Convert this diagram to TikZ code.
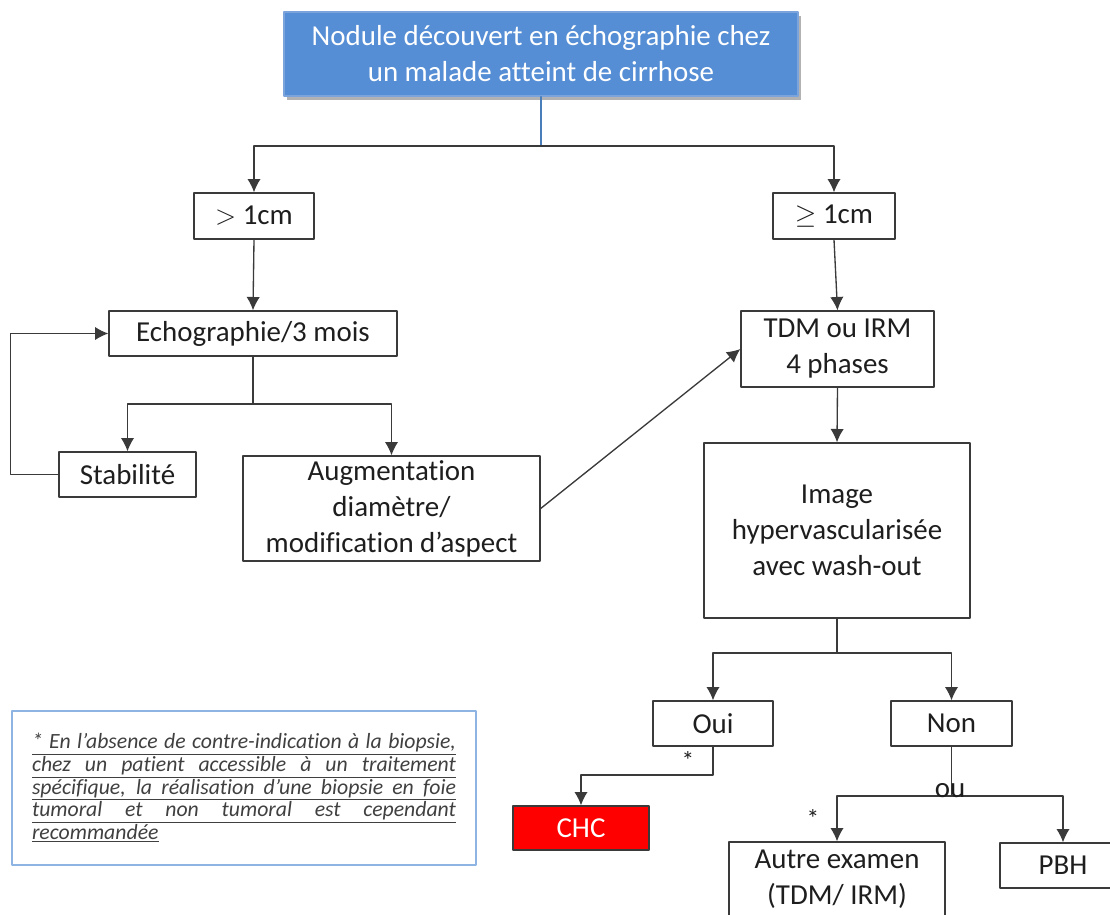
\documentclass[tikz,border=0pt]{standalone}
\usepackage{fontspec}
\setmainfont{Carlito}[Ligatures=NoCommon]
\usepackage{tikz}
\usetikzlibrary{arrows.meta}
\usetikzlibrary{positioning}
\usetikzlibrary{shadows}

\definecolor{bleunodule}{HTML}{558ED5}
\definecolor{bordnodule}{HTML}{7BA3DC}
\definecolor{bleutrait}{HTML}{4A7EBB}
\definecolor{trait}{HTML}{3A3A3A}
\definecolor{texte}{HTML}{1E1E1E}
\definecolor{rougechc}{HTML}{FF0000}
\definecolor{bordnote}{HTML}{8EB4E3}
\definecolor{textenote}{HTML}{404040}

% ligne justifiee et soulignee de la note
\newcommand{\lignenote}[1]{\underline{\hbox to 318pt{#1}}}

\tikzset{
  boite/.style 2 args={draw=trait, line width=1pt, fill=white, text=texte, align=center,
    inner sep=0pt, minimum width=#1*0.75pt, minimum height=#2*0.75pt,
    font=\fontsize{21.7}{27}\selectfont},
  fleche/.style={draw=trait, line width=1pt, -{Latex[length=10pt, width=10pt]}},
  liaison/.style={draw=trait, line width=1pt},
  etoile/.style={text=texte, inner sep=0pt, font=\fontsize{19}{19}\selectfont}
}

\begin{document}
\begin{tikzpicture}[line cap=round,line join=round, x=0.75pt,y=-0.75pt]
\useasboundingbox (0,0) rectangle (1110,914);
% boites
\node[boite={514}{84}, fill=bleunodule, draw=bordnodule, text=white,
  drop shadow={shadow xshift=2.5pt, shadow yshift=-3pt, opacity=0.3, fill=black}]
  (nodule) at (541,54) {Nodule découvert en échographie chez\\un malade atteint de cirrhose};
\node[boite={120}{46}] (gt) at (254,216) {$>$ 1cm};
\node[boite={122}{46}] (ge) at (834,216) {$\geq$ 1cm};
\node[boite={288}{45}] (echo) at (253,333.5) {Echographie/3 mois};
\node[boite={137}{45}] (stab) at (127.5,474.5) {Stabilité};
\node[boite={297}{105}] (augm) at (391.5,508.5) {Augmentation\\diamètre/\\modification d’aspect};
\node[boite={193}{76}] (tdm) at (837.5,349) {TDM ou IRM\\4 phases};
\node[boite={266}{175}] (image) at (837,530.5) {Image\\hypervascularisée\\avec wash-out};
\node[boite={120}{45}] (oui) at (713,723.5) {Oui};
\node[boite={121}{45}] (non) at (951.5,723.5) {Non};
\node[boite={136}{44}, fill=rougechc, text=white] (chc) at (581,828) {CHC};
\node[boite={216}{74}] (autre) at (837,879) {Autre examen\\(TDM/ IRM)};
\node[boite={126}{45}] (pbh) at (1063,865.5) {PBH};
\node[draw=bordnote, line width=1.2pt, inner xsep=15pt, inner ysep=0pt,
  minimum width=464*0.75pt, minimum height=154*0.75pt, align=left, text=textenote,
  font=\fontsize{16.3}{17}\selectfont\itshape] (note) at (244,788)
  {\lignenote{* En l’absence de contre-indication à la biopsie,}\\
   \lignenote{chez un patient accessible à un traitement}\\
   \lignenote{spécifique, la réalisation d’une biopsie en foie}\\
   \lignenote{tumoral et non tumoral est cependant}\\
   \underline{recommandée}};
% liaisons
\coordinate (split) at (541,146);
\draw[liaison, draw=bleutrait] (nodule.south) -- (split);
\draw[fleche] (split) -| (gt.north);
\draw[fleche] (split) -| (ge.north);
\draw[fleche] (gt.south) -- (echo.north);
\draw[fleche] (ge.south) -- (tdm.north);
\coordinate (splitecho) at (253,404);
\draw[liaison] (echo.south) -- (splitecho);
\draw[fleche] (splitecho) -| (stab.north);
\draw[fleche] (splitecho) -| (augm.north);
\draw[fleche] (stab.west) -- ++(-48,0) |- (echo.west);
\draw[fleche] (augm.east) -- (tdm.west);
\draw[fleche] (tdm.south) -- (image.north);
\coordinate (splitimage) at (837,653);
\draw[liaison] (image.south) -- (splitimage);
\draw[fleche] (splitimage) -| (oui.north);
\draw[fleche] (splitimage) -| (non.north);
\coordinate (coudeoui) at (713,775);
\draw[fleche] (oui.south) -- (coudeoui) -| (chc.north);
\coordinate (splitnon) at (951.5,796);
\draw[liaison] (non.south) -- (splitnon);
\draw[fleche] (splitnon) -| (autre.north);
\draw[fleche] (splitnon) -| (pbh.north);
% etiquettes
\node[anchor=base, text=texte, inner sep=0pt, font=\fontsize{21.7}{27}\selectfont] (ou) at (950,797) {ou};
\node[etoile] (etoileoui) at (688,760) {*};
\node[etoile] (etoileautre) at (813,818) {*};
\end{tikzpicture}
\end{document}
